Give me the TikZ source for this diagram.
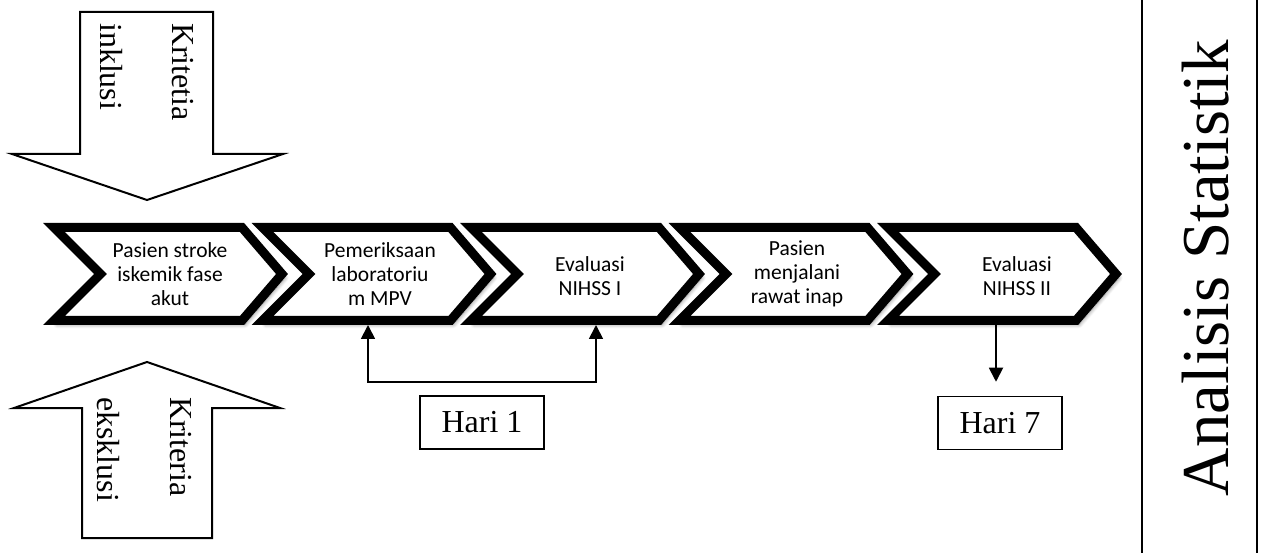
\documentclass[tikz,border=0pt]{standalone}
\usepackage{fontspec}
\setmainfont{Liberation Serif}
\newfontfamily\chevfont{Carlito}
\usetikzlibrary{arrows.meta,shadows.blur}
\begin{document}
\begin{tikzpicture}[x=1pt,y=-1pt,
  chev/.style={draw=black, line width=9pt, fill=white, line join=miter,
    blur shadow={shadow xshift=3pt, shadow yshift=-4pt, shadow blur radius=4pt,
      shadow blur steps=10, shadow opacity=45}},
  chevtext/.style={font=\chevfont\fontsize{21.5}{24}\selectfont, align=center, inner sep=0pt},
  bigarrow/.style={draw=black, line width=2pt, line join=miter, fill=white},
  crit/.style={font=\fontsize{32}{36}\selectfont, rotate=-90, anchor=base west, inner sep=0pt},
  conn/.style={draw=black, line width=1.8pt},
  tipend/.style={-{Triangle[length=14pt,width=14pt]}},
  tipboth/.style={{Triangle[length=14pt,width=14pt]}-{Triangle[length=14pt,width=14pt]}},
  daybox/.style={draw=black, line width=1.5pt, minimum width=124pt, minimum height=53pt,
    font=\fontsize{32}{36}\selectfont, inner sep=0pt}]
\useasboundingbox (0,0) rectangle (1267,553);

% inclusion / exclusion block arrows
\draw[bigarrow] (80,12) -- (213,12) -- (213,154) -- (283,154) -- (147,200)
  -- (12,154) -- (80,154) -- cycle;
\node[crit] (kinc1) at (172,23) {Kritetia};
\node[crit] (kinc2) at (100,23) {inklusi};

\draw[bigarrow] (147,362) -- (280,408) -- (212,408) -- (212,538) -- (82,538)
  -- (82,408) -- (14,408) -- cycle;
\node[crit] (kexc1) at (170,397) {Kriteria};
\node[crit] (kexc2) at (97,397) {eksklusi};

% process chevrons
\foreach \x in {54,262.5,471,679.5,888}
  \draw[chev] (\x,227.5) -- ++(188,0) -- ++(40,46.5) -- ++(-40,46.5)
    -- ++(-188,0) -- ++(46.5,-46.5) -- cycle;

\node[chevtext] (c1) at (170,274) {Pasien stroke\\iskemik fase\\akut};
\node[chevtext] (c2) at (380,274) {Pemeriksaan\\laboratoriu\\m MPV};
\node[chevtext] (c3) at (590,276) {Evaluasi\\NIHSS I};
\node[chevtext] (c4) at (797,274) {Pasien\\menjalani\\rawat inap};
\node[chevtext] (c5) at (1017,276) {Evaluasi\\NIHSS II};

% attachment points on the chevron bottoms
\coordinate (c2b) at (368,325);
\coordinate (c3b) at (596,325);
\coordinate (c5b) at (996,325);
\coordinate (hb) at (482,382);

% day labels
\node[daybox] (h1) at (482,422.5) {Hari 1};
\node[daybox] (h7) at (1000,423) {Hari 7};

\draw[conn, tipboth] (c2b) -- (c2b |- hb) -- (c3b |- hb) -- (c3b);
\draw[conn, tipend, shorten >=14pt] (c5b) -- (c5b |- h7.north);

% statistics column
\node[draw=black, line width=2.2pt, minimum width=115pt, minimum height=640pt,
  inner sep=0pt] (statbox) at (1199.5,276.5) {};
\node[rotate=90, anchor=base, inner sep=0pt, font=\fontsize{67}{70}\selectfont]
  (stat) at (1228,268) {Analisis Statistik};
\end{tikzpicture}
\end{document}
